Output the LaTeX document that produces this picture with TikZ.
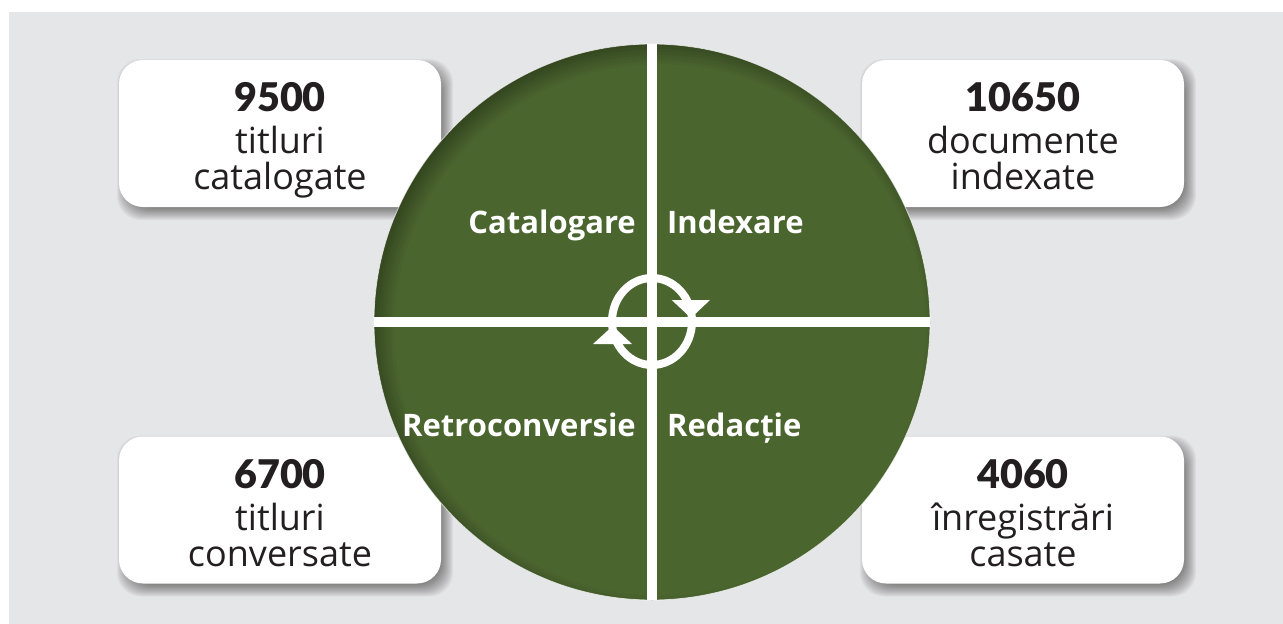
\documentclass[tikz,border=0pt]{standalone}
\usepackage{fontspec}
\setmainfont{Open Sans}
\newfontfamily\heavyfont{Lato Black}
\definecolor{panelgray}{HTML}{E5E6E8}
\definecolor{discgreen}{HTML}{4B652F}
\definecolor{inkblack}{HTML}{231F20}
\newcommand{\countfig}[1]{{\heavyfont\fontsize{39.5}{39.5}\selectfont #1}\\[6pt]}
\tikzset{
  databox/.style={fill=white, rounded corners=24pt, minimum width=322pt, minimum height=147pt, inner sep=0pt},
  boxtext/.style={align=center, text=inkblack, font=\fontsize{36}{36}\selectfont, inner sep=0pt},
  sectorlabel/.style={text=white, font=\fontsize{31}{32}\selectfont\bfseries, inner sep=0pt},
}
\begin{document}
\begin{tikzpicture}[x=1pt,y=-1pt]
	\useasboundingbox (0,0) rectangle (1283,624);
	%panel
		\fill[panelgray] (9,12) rectangle (1283,624);
	%shadows of the boxes
		\foreach \bx/\by in {280/133.5,1023/133.5,280/510,1023/510}{
			\foreach \grow in {7,6,...,-7}{
				\fill[black,opacity=0.04,rounded corners=24pt]
					(\bx-161+5-\grow,\by-73.5+6-\grow) rectangle (\bx+161+5+\grow,\by+73.5+6+\grow);
			}
		}
	%boxes
		\node[databox] (catalog) at (280,133.5) {};
		\node[databox] (index) at (1023,133.5) {};
		\node[databox] (retro) at (280,510) {};
		\node[databox] (redact) at (1023,510) {};
	%box texts
		\node[boxtext] at ([yshift=-8pt]catalog.center) {\countfig{9500}titluri\\catalogate\strut};
		\node[boxtext] at ([yshift=-8pt]index.center) {\countfig{10650}documente\\indexate\strut};
		\node[boxtext] at ([yshift=-8pt]retro.center) {\countfig{6700}titluri\\conversate\strut};
		\node[boxtext] at ([yshift=-8pt]redact.center) {\countfig{4060}înregistrări\\casate\strut};
	%disc
		\fill[discgreen] (652,322) circle [radius=278];
	%dark rim, heaviest at the upper left
		\begin{scope}
			\clip (652,322) circle [radius=278];
			\foreach \rim in {266,269,...,290}{
				\fill[black,opacity=0.04,even odd rule] (360,30) rectangle (944,614) (660,330) circle [radius=\rim];
			}
		\end{scope}
		\draw[white,opacity=0.7,line width=0.8pt] (652,322) circle [radius=278];
	%cross
		\draw[white,line width=10pt] (652,44) -- (652,600);
		\draw[white,line width=10pt] (374,322) -- (930,322);
	%cycle + arrow heads
		\draw[white,line width=8pt] (652,321.5) ellipse [x radius=40, y radius=43.5];
		\fill[white] (671.7,300) -- (710,300) -- (691,318) -- cycle;
		\fill[white] (593,344) -- (632,344) -- (612.7,326) -- cycle;
	%sector labels
		\node[sectorlabel,anchor=base east] (catalogare) at (636,233) {Catalogare};
		\node[sectorlabel,anchor=base west] (indexare) at (667,233) {Indexare};
		\node[sectorlabel,anchor=base east] (retroconv) at (636,436) {Retroconversie};
		\node[sectorlabel,anchor=base west] (redactie) at (667,436) {Redacție};
\end{tikzpicture}
\end{document}
